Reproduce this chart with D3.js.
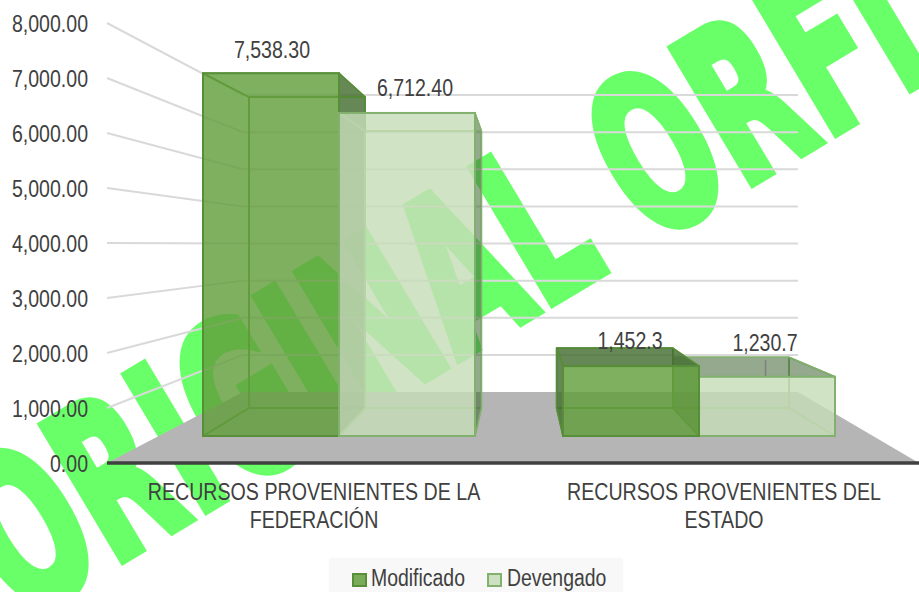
<!DOCTYPE html>
<html><head><meta charset="utf-8">
<script src="https://cdn.jsdelivr.net/npm/d3@7/dist/d3.min.js"></script>
<style>html,body{margin:0;padding:0;background:#fff}svg{display:block}
text{font-family:"Liberation Sans",Arial,sans-serif;fill:#404040}</style></head>
<body><svg id="c" width="919" height="592"></svg>
<script>
const categories = ["RECURSOS PROVENIENTES DE LA|FEDERACIÓN", "RECURSOS PROVENIENTES DEL|ESTADO"];
const seriesNames = ["Modificado", "Devengado"];
const modificado = [7538.30, 1452.3];
const devengado = [6712.40, 1230.7];
const valueLabels = [["7,538.30", "1,452.3"], ["6,712.40", "1,230.7"]];
const tickValues = [0, 1000, 2000, 3000, 4000, 5000, 6000, 7000, 8000];
const watermark = "ORIGINAL ORFIS";

const svg = d3.select("#c");
const series = [modificado, devengado];

// projection of the 3D box: front wall, back wall
const yAxisFront = d3.scaleLinear().domain([0, 8000]).range([463, 23]);
const yAxisBack = d3.scaleLinear().domain([0, 8000]).range([392, 95]);
const yBarFront = d3.scaleLinear().domain([0, 8000]).range([436, 51]);
const yBarBack = d3.scaleLinear().domain([0, 8000]).range([408, 78]);
const xCat = d3.scaleBand().domain(categories).range([159, 879]);
const xSer = d3.scaleBand().domain(seriesNames).range([-136, 136]);
const xBack = d3.scaleLinear().domain([203, 835]).range([249, 789]);

function squeeze(sel, k) {
  sel.each(function () {
    const w = this.getComputedTextLength();
    d3.select(this).attr("textLength", w * k).attr("lengthAdjust", "spacingAndGlyphs");
  });
}

// watermark
const wmAngle = -30.9, wmSx = 0.58;
const wm = svg.append("text").text(watermark)
  .attr("font-size", 214).attr("font-weight", 700)
  .style("font-family", "'DejaVu Sans'").style("fill", "#69ff69")
  .style("stroke", "#69ff69").style("stroke-width", 10);
const node = wm.node();
const p1 = node.getStartPositionOfChar(1).x, p10 = node.getStartPositionOfChar(10).x;
const ls = (734 / wmSx - (p10 - p1)) / 9;
wm.style("letter-spacing", ls + "px");
const start = node.getStartPositionOfChar(1).x;
wm.attr("transform", `translate(112,566) rotate(${wmAngle}) scale(${wmSx},1) translate(${-start},0)`);

// floor
svg.append("path").attr("fill", "#b5b5b5")
  .attr("d", d3.line()([[107, 463], [243, yAxisBack(0)], [798, yAxisBack(0)], [919, 463]]));

// gridlines on walls
const grid = svg.append("g").attr("fill", "none").attr("stroke", "#d9d9d9").attr("stroke-width", 2);
tickValues.filter(d => d > 0).forEach(v => {
  grid.append("path").attr("d", d3.line()([[107, yAxisFront(v)], [243, yAxisBack(v)], [798, yAxisBack(v)]]));
});

// bars
const palettes = [
  { front: "rgb(99,158,60)", edge: "#568f38", outer: "rgb(70,110,50)", outerA: 0.82, inner: 0.04 },
  { front: "rgb(198,220,183)", edge: "#82b06e", outer: "rgb(62,98,50)", outerA: 0.55, inner: 0.03 }
];
const barsG = svg.append("g");
// bars further from the centre of the view are painted first
const paintOrder = [[0, 0], [1, 0], [1, 1], [0, 1]];
paintOrder.forEach(([s, c]) => {
  const v = series[s][c];
  const pal = palettes[s];
  const cx = xCat(categories[c]) + xCat.bandwidth() / 2;
  const x0 = cx + xSer(seriesNames[s]), x1 = x0 + xSer.bandwidth();
  const bx0 = xBack(x0), bx1 = xBack(x1);
  const ft = yBarFront(v), fb = yBarFront(0), bt = yBarBack(v), bb = yBarBack(0);
  const faces = [
    { pts: [[bx0, bt], [bx1, bt], [bx1, bb], [bx0, bb]], outer: false },
    { pts: [[x0, fb], [x1, fb], [bx1, bb], [bx0, bb]], outer: false },
    { pts: [[x0, ft], [bx0, bt], [bx0, bb], [x0, fb]], outer: bx0 < x0 },
    { pts: [[x1, ft], [bx1, bt], [bx1, bb], [x1, fb]], outer: bx1 > x1 },
    { pts: [[x0, ft], [x1, ft], [bx1, bt], [bx0, bt]], outer: bt < ft }
  ];
  const g = barsG.append("g");
  g.selectAll("path").data(faces).join("path")
    .attr("d", d => d3.line()(d.pts) + "Z")
    .attr("fill", d => d.outer ? pal.outer : pal.front)
    .attr("fill-opacity", d => d.outer ? pal.outerA : pal.inner)
    .attr("stroke", pal.edge).attr("stroke-width", 1.5).attr("stroke-linejoin", "round");
  g.append("rect").attr("x", x0).attr("y", ft).attr("width", x1 - x0).attr("height", fb - ft)
    .attr("fill", pal.front).attr("fill-opacity", 0.81)
    .attr("stroke", pal.edge).attr("stroke-width", 2);
});

// axis baseline
svg.append("line").attr("x1", 107).attr("x2", 919).attr("y1", yAxisFront(0)).attr("y2", yAxisFront(0))
  .attr("stroke", "#404040").attr("stroke-width", 3.5);

// y axis labels
const axis = svg.append("g").attr("transform", "translate(88,0)")
  .call(d3.axisLeft(yAxisFront).tickValues(tickValues).tickFormat(d3.format(",.2f")).tickSize(0).tickPadding(0));
axis.select(".domain").remove();
axis.selectAll("text").attr("font-size", 23).attr("dy", "0.36em").attr("x", 0)
  .style("font-family", "'Liberation Sans'").call(squeeze, 0.85);

// data labels
const labelPos = [[[272, 58], [630, 349]], [[415, 96], [765, 351]]];
valueLabels.forEach((row, s) => row.forEach((t, c) => {
  svg.append("text").text(t).attr("x", labelPos[s][c][0]).attr("y", labelPos[s][c][1])
    .attr("text-anchor", "middle").attr("font-size", 23).call(squeeze, 0.85);
}));
svg.append("line").attr("x1", 765.5).attr("x2", 765.5).attr("y1", 360).attr("y2", 376)
  .attr("stroke", "#7f7f7f").attr("stroke-width", 1.5);

// category labels
const catCenters = [314, 724];
categories.forEach((c, i) => c.split("|").forEach((line, j) => {
  svg.append("text").text(line).attr("x", catCenters[i]).attr("y", 500 + j * 28)
    .attr("text-anchor", "middle").attr("font-size", 23).call(squeeze, 0.853);
}));

// legend
svg.append("rect").attr("x", 329).attr("y", 558).attr("width", 294).attr("height", 34).attr("fill", "#f8f8f8");
const legendX = [[353, 371], [488, 507]];
seriesNames.forEach((n, i) => {
  svg.append("rect").attr("x", legendX[i][0]).attr("y", 574).attr("width", 13).attr("height", 12)
    .attr("fill", palettes[i].front).attr("fill-opacity", 0.85).attr("stroke", palettes[i].edge).attr("stroke-width", 2);
  svg.append("text").text(n).attr("x", legendX[i][1]).attr("y", 586).attr("font-size", 23).call(squeeze, 0.845);
});
</script></body></html>
